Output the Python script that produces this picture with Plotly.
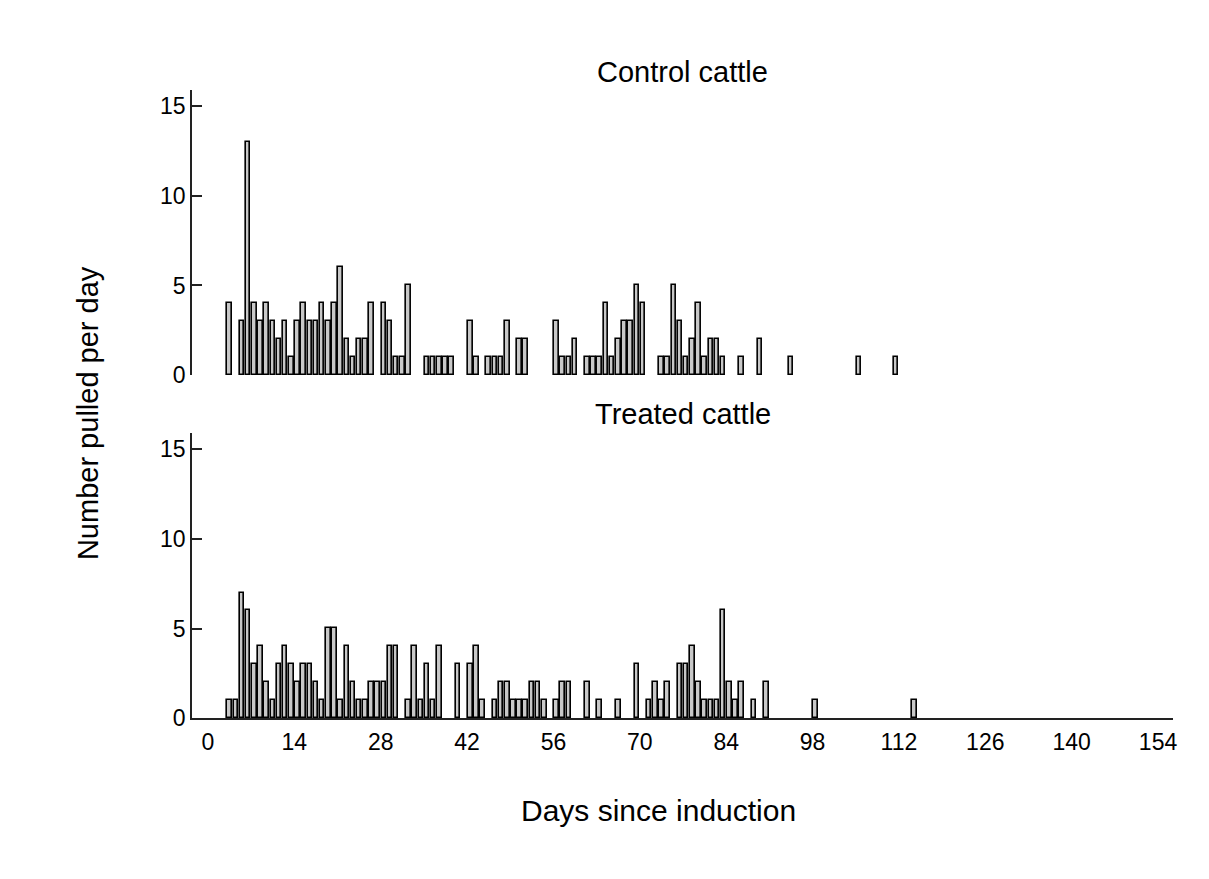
import plotly.graph_objects as go

# Daily counts of cattle pulled, by day since induction
control_days = [3, 5, 6, 7, 8, 9, 10, 11, 12, 13, 14, 15, 16, 17, 18, 19, 20, 21, 22, 23,
                24, 25, 26, 28, 29, 30, 31, 32, 35, 36, 37, 38, 39, 42, 43, 45, 46, 47, 48,
                50, 51, 56, 57, 58, 59, 61, 62, 63, 64, 65, 66, 67, 68, 69, 70, 73, 74, 75,
                76, 77, 78, 79, 80, 81, 82, 83, 86, 89, 94, 105, 111]
control_counts = [4, 3, 13, 4, 3, 4, 3, 2, 3, 1, 3, 4, 3, 3, 4, 3, 4, 6, 2, 1,
                  2, 2, 4, 4, 3, 1, 1, 5, 1, 1, 1, 1, 1, 3, 1, 1, 1, 1, 3,
                  2, 2, 3, 1, 1, 2, 1, 1, 1, 4, 1, 2, 3, 3, 5, 4, 1, 1, 5,
                  3, 1, 2, 4, 1, 2, 2, 1, 1, 2, 1, 1, 1]

treated_days = [3, 4, 5, 6, 7, 8, 9, 10, 11, 12, 13, 14, 15, 16, 17, 18, 19, 20, 21, 22,
                23, 24, 25, 26, 27, 28, 29, 30, 32, 33, 34, 35, 36, 37, 40, 42, 43, 44, 46,
                47, 48, 49, 50, 51, 52, 53, 54, 56, 57, 58, 61, 63, 66, 69, 71, 72, 73, 74,
                76, 77, 78, 79, 80, 81, 82, 83, 84, 85, 86, 88, 90, 98, 114]
treated_counts = [1, 1, 7, 6, 3, 4, 2, 1, 3, 4, 3, 2, 3, 3, 2, 1, 5, 5, 1, 4,
                  2, 1, 1, 2, 2, 2, 4, 4, 1, 4, 1, 3, 1, 4, 3, 3, 4, 1, 1,
                  2, 2, 1, 1, 1, 2, 2, 1, 1, 2, 2, 2, 1, 1, 3, 1, 2, 1, 2,
                  3, 3, 4, 2, 1, 1, 1, 6, 2, 1, 2, 1, 2, 1, 1]

x_ticks = [0, 14, 28, 42, 56, 70, 84, 98, 112, 126, 140, 154]
y_ticks = [0, 5, 10, 15]

FONT = "Arial, Liberation Sans, sans-serif"
W, H = 1209, 879
x_range = [-2.6, 156.4]
y_range = [0, 15.9]

# layout placement helpers (pixel positions -> paper fractions)
SX, SY = 0.996, 0.985


def py(px):
    return 1 - (px / SY) / H


def px_x(px):
    return (px / SX) / W


bar_style = dict(marker=dict(color="#c8c8c8", line=dict(color="black", width=1.6)),
                 width=0.74, showlegend=False, hoverinfo="x+y")

fig = go.Figure()
# each day's bin spans [day, day + 1)
fig.add_trace(go.Bar(x=[d + 0.5 for d in control_days], y=control_counts,
                     xaxis="x", yaxis="y", **bar_style))
fig.add_trace(go.Bar(x=[d + 0.5 for d in treated_days], y=treated_counts,
                     xaxis="x2", yaxis="y2", **bar_style))

yaxis_common = dict(range=y_range, tickvals=y_ticks, ticks="inside", ticklen=10,
                    tickwidth=1.5, tickcolor="#222", showline=True, linecolor="#222",
                    linewidth=1.5, showgrid=False, zeroline=False,
                    tickfont=dict(family=FONT, size=23, color="black"))

fig.update_layout(
    width=W, height=H,
    margin=dict(l=0, r=0, t=0, b=0),
    paper_bgcolor="white", plot_bgcolor="white",
    bargap=0,
    xaxis=dict(domain=[px_x(192), px_x(1173)], range=x_range, visible=False,
               anchor="y"),
    yaxis=dict(domain=[py(375), py(90)], anchor="x", **yaxis_common),
    xaxis2=dict(domain=[px_x(192), px_x(1173)], range=x_range, anchor="y2",
                tickvals=x_ticks, ticks="", showline=True, linecolor="#222",
                linewidth=1.5, showgrid=False, zeroline=False,
                ticklabelstandoff=2,
                tickfont=dict(family=FONT, size=23, color="black")),
    yaxis2=dict(domain=[py(718), py(433)], anchor="x2", **yaxis_common),
    annotations=[
        dict(text="Control cattle", x=px_x(683), y=py(72), xref="paper", yref="paper",
             showarrow=False, font=dict(family=FONT, size=29, color="black"),
             xanchor="center", yanchor="middle"),
        dict(text="Treated cattle", x=px_x(683), y=py(414), xref="paper", yref="paper",
             showarrow=False, font=dict(family=FONT, size=29, color="black"),
             xanchor="center", yanchor="middle"),
        dict(text="Days since induction", x=px_x(659), y=py(810), xref="paper",
             yref="paper", showarrow=False,
             font=dict(family=FONT, size=30, color="black"),
             xanchor="center", yanchor="middle"),
        dict(text="Number pulled per day", x=px_x(88), y=py(413), xref="paper",
             yref="paper", showarrow=False, textangle=-90,
             font=dict(family=FONT, size=29, color="black"),
             xanchor="center", yanchor="middle"),
    ],
)

fig.write_html("out.html",
               post_script="document.body.style.margin='0';"
                           "document.body.style.overflow='hidden';")
